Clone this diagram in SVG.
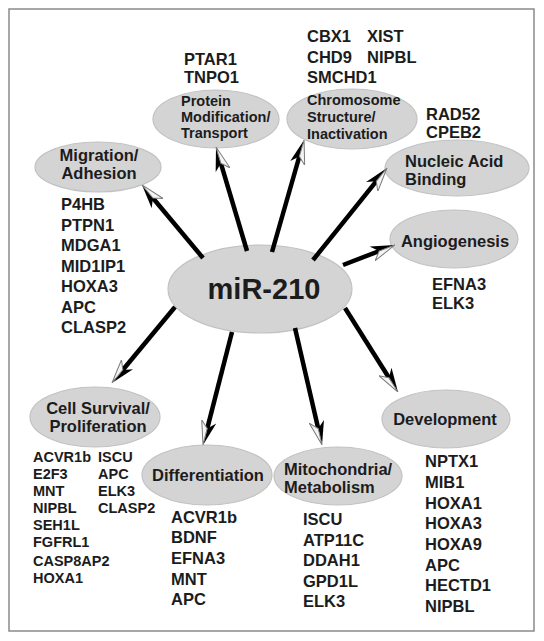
<svg xmlns="http://www.w3.org/2000/svg" width="544" height="641" viewBox="0 0 544 641">
<style>
.frame{fill:#fff;stroke:#8a8a8a;stroke-width:1.5}
.node ellipse{fill:#d4d4d4;stroke:#c2c2c2;stroke-width:1.2}
text{font-family:"Liberation Sans",Arial,sans-serif;font-weight:bold;fill:#1c1c1c}
.t{font-size:16.5px}
.s{font-size:14.5px}
.g{font-size:16.5px}
.gs{font-size:14.5px}
.c{text-anchor:middle}
.edge{stroke:#000;stroke-width:4.5;fill:none;marker-end:url(#ah)}
</style>
<defs>
<marker id="ah" viewBox="0 0 24 16" refX="10" refY="8" markerWidth="24" markerHeight="16" markerUnits="userSpaceOnUse" orient="auto">
<path d="M24,8 L0,0.5 L7,8 Z" fill="#000"/>
<path d="M24,8 L0,15.5 L7,8 Z" fill="#f4f4f4" stroke="#7a7a7a" stroke-width="1"/>
</marker>
</defs>
<rect class="frame" x="9" y="9" width="525" height="622"/>

<g id="mir210" class="node">
<ellipse cx="260" cy="289" rx="92" ry="44"/>
<text x="264" y="299" class="c" style="font-size:29px">miR-210</text>
</g>

<g id="migration" class="node">
<ellipse cx="98" cy="167" rx="63" ry="25"/>
<text x="99" y="161" class="t c">Migration/</text>
<text x="99" y="179" class="t c">Adhesion</text>
<text x="61" y="210" class="g">P4HB</text>
<text x="61" y="230.5" class="g">PTPN1</text>
<text x="61" y="251" class="g">MDGA1</text>
<text x="61" y="271.5" class="g">MID1IP1</text>
<text x="61" y="292" class="g">HOXA3</text>
<text x="61" y="312.5" class="g">APC</text>
<text x="61" y="333" class="g">CLASP2</text>
</g>

<g id="protein" class="node">
<ellipse cx="216" cy="119" rx="63" ry="29"/>
<text x="181" y="106" class="s">Protein</text>
<text x="181" y="122" class="s">Modification/</text>
<text x="181" y="138" class="s">Transport</text>
<text x="184" y="65" class="g">PTAR1</text>
<text x="184" y="83" class="g">TNPO1</text>
</g>

<g id="chromosome" class="node">
<ellipse cx="352" cy="119" rx="65" ry="30"/>
<text x="307" y="105" class="s">Chromosome</text>
<text x="307" y="122" class="s">Structure/</text>
<text x="307" y="139" class="s">Inactivation</text>
<text x="307" y="42" class="g">CBX1</text>
<text x="367" y="42" class="g">XIST</text>
<text x="307" y="63" class="g">CHD9</text>
<text x="367" y="63" class="g">NIPBL</text>
<text x="307" y="83" class="g">SMCHD1</text>
</g>

<g id="nucleic" class="node">
<ellipse cx="457" cy="168" rx="72" ry="28"/>
<text x="405" y="167" class="t">Nucleic Acid</text>
<text x="405" y="185" class="t">Binding</text>
<text x="426" y="120" class="g">RAD52</text>
<text x="426" y="138" class="g">CPEB2</text>
</g>

<g id="angiogenesis" class="node">
<ellipse cx="454" cy="239" rx="64" ry="29"/>
<text x="455" y="247" class="t c">Angiogenesis</text>
<text x="432" y="290" class="g">EFNA3</text>
<text x="432" y="309" class="g">ELK3</text>
</g>

<g id="development" class="node">
<ellipse cx="446" cy="419" rx="64" ry="29"/>
<text x="445" y="425" class="t c">Development</text>
<text x="425" y="467" class="g">NPTX1</text>
<text x="425" y="488" class="g">MIB1</text>
<text x="425" y="508.5" class="g">HOXA1</text>
<text x="425" y="529" class="g">HOXA3</text>
<text x="425" y="550" class="g">HOXA9</text>
<text x="425" y="570.5" class="g">APC</text>
<text x="425" y="591" class="g">HECTD1</text>
<text x="425" y="612" class="g">NIPBL</text>
</g>

<g id="mitochondria" class="node">
<ellipse cx="338" cy="476" rx="64" ry="29"/>
<text x="284" y="475" class="t">Mitochondria/</text>
<text x="284" y="493" class="t">Metabolism</text>
<text x="303" y="525" class="g">ISCU</text>
<text x="303" y="545.5" class="g">ATP11C</text>
<text x="303" y="566" class="g">DDAH1</text>
<text x="303" y="586.5" class="g">GPD1L</text>
<text x="303" y="607" class="g">ELK3</text>
</g>

<g id="differentiation" class="node">
<ellipse cx="207" cy="475" rx="65" ry="30"/>
<text x="208" y="481" class="t c">Differentiation</text>
<text x="171" y="523" class="g">ACVR1b</text>
<text x="171" y="543" class="g">BDNF</text>
<text x="171" y="564" class="g">EFNA3</text>
<text x="171" y="585" class="g">MNT</text>
<text x="171" y="605" class="g">APC</text>
</g>

<g id="cellsurvival" class="node">
<ellipse cx="95" cy="417" rx="65" ry="30"/>
<text x="98" y="414" class="t c">Cell Survival/</text>
<text x="98" y="432" class="t c">Proliferation</text>
<text x="33" y="462" class="gs">ACVR1b</text>
<text x="33" y="479" class="gs">E2F3</text>
<text x="33" y="496" class="gs">MNT</text>
<text x="33" y="513" class="gs">NIPBL</text>
<text x="33" y="530" class="gs">SEH1L</text>
<text x="33" y="547" class="gs">FGFRL1</text>
<text x="33" y="566" class="gs">CASP8AP2</text>
<text x="33" y="583" class="gs">HOXA1</text>
<text x="98" y="462" class="gs">ISCU</text>
<text x="98" y="479" class="gs">APC</text>
<text x="98" y="496" class="gs">ELK3</text>
<text x="98" y="513" class="gs">CLASP2</text>
</g>

<g id="connectors">
<line class="edge" x1="203" y1="258" x2="151" y2="195.7"/>
<line class="edge" x1="247" y1="251" x2="220" y2="160.4"/>
<line class="edge" x1="272" y1="252" x2="300.2" y2="153.5"/>
<line class="edge" x1="313" y1="260" x2="378.2" y2="178.9"/>
<line class="edge" x1="343" y1="265" x2="381.9" y2="250"/>
<line class="edge" x1="345" y1="308" x2="390.5" y2="380.2"/>
<line class="edge" x1="295" y1="328" x2="318.9" y2="431.4"/>
<line class="edge" x1="232" y1="332" x2="206.5" y2="431.4"/>
<line class="edge" x1="175" y1="307" x2="120.9" y2="372.2"/>
</g>
</svg>
